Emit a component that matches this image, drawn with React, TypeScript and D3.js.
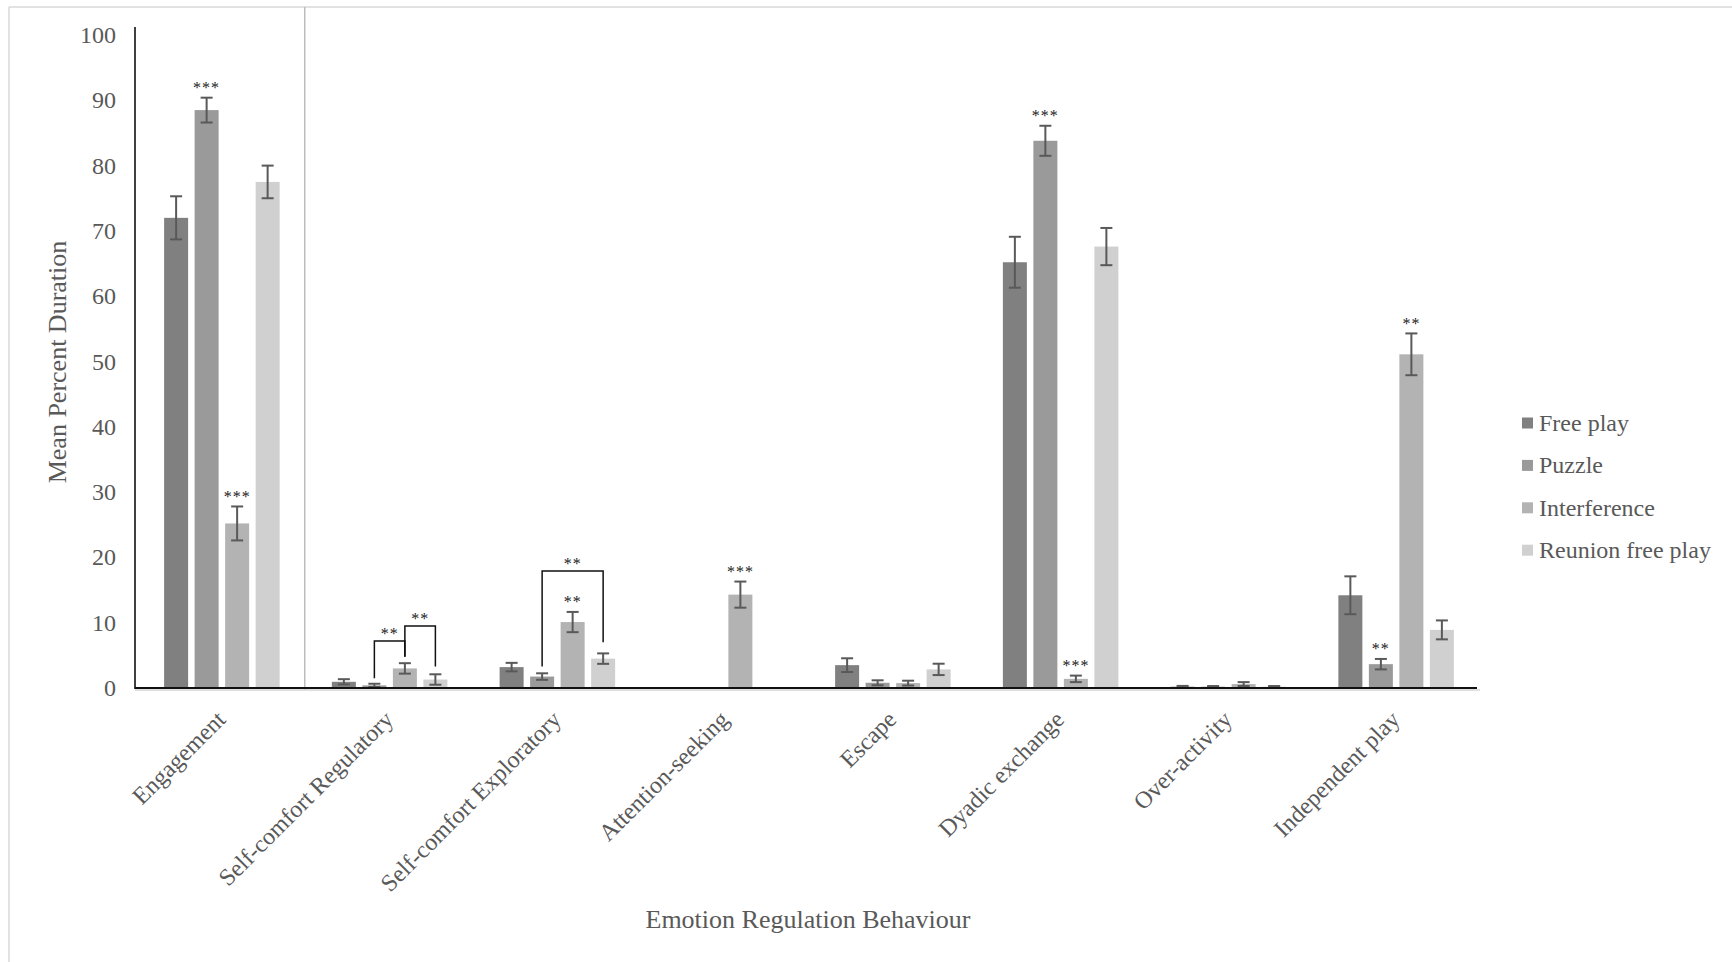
import React from "react";
import * as d3 from "d3";

const categories = [
  "Engagement",
  "Self-comfort Regulatory",
  "Self-comfort Exploratory",
  "Attention-seeking",
  "Escape",
  "Dyadic exchange",
  "Over-activity",
  "Independent play",
];
const seriesNames = ["Free play", "Puzzle", "Interference", "Reunion free play"];
const seriesColors = ["#808080", "#9a9a9a", "#b3b3b3", "#d0d0d0"];

const freePlay = [72.0, 0.95, 3.2, 0, 3.5, 65.2, 0.2, 14.2];
const puzzle = [88.5, 0.4, 1.75, 0, 0.8, 83.8, 0.2, 3.65];
const interference = [25.2, 3.0, 10.1, 14.3, 0.75, 1.4, 0.6, 51.1];
const reunion = [77.5, 1.3, 4.5, 0, 2.85, 67.6, 0.2, 8.9];

const freePlayErr = [3.3, 0.4, 0.65, 0, 1.05, 3.9, 0.12, 2.9];
const puzzleErr = [1.9, 0.25, 0.5, 0, 0.38, 2.3, 0.1, 0.8];
const interferenceErr = [2.6, 0.8, 1.55, 2.0, 0.37, 0.5, 0.3, 3.2];
const reunionErr = [2.5, 0.8, 0.8, 0, 0.87, 2.85, 0.1, 1.45];

const yTicks = [0, 10, 20, 30, 40, 50, 60, 70, 80, 90, 100];

// significance stars above bars: [category index, series index, label]
const stars: [number, number, string][] = [
  [0, 1, "***"],
  [0, 2, "***"],
  [2, 2, "**"],
  [3, 2, "***"],
  [5, 1, "***"],
  [5, 2, "***"],
  [7, 1, "**"],
  [7, 2, "**"],
];

// brackets: [category, from series, to series, top value, left bottom, right bottom, label]
const brackets: [number, number, number, number, number, number, string][] = [
  [1, 1, 2, 7.2, 1.5, 4.8, "**"],
  [1, 2, 3, 9.5, 4.8, 3.3, "**"],
  [2, 1, 3, 17.9, 3.3, 7.0, "**"],
];

const values = [freePlay, puzzle, interference, reunion];
const errors = [freePlayErr, puzzleErr, interferenceErr, reunionErr];

const W = 1732;
const H = 962;
const X0 = 135;
const X1 = 1477;
const Y0 = 688;
const YTOP = 35;
const FONT = "'Liberation Serif', 'Times New Roman', serif";
const TEXT = "#595959";

export default function App() {
  const x = d3.scaleBand<string>().domain(categories).range([X0, X1]).padding(0);
  const inner = d3
    .scaleBand<string>()
    .domain(seriesNames)
    .range([3, x.bandwidth() + 3])
    .paddingInner(0.213)
    .paddingOuter(0.856);
  const y = d3.scaleLinear().domain([0, 100]).range([Y0, YTOP]);
  const bw = inner.bandwidth();
  const cx = (c: number, s: number) => (x(categories[c]) as number) + (inner(seriesNames[s]) as number) + bw / 2;

  return (
    <svg
      width={W}
      height={H}
      style={{ position: "absolute", left: 0, top: 0, background: "#fff" }}
      fontFamily={FONT}
    >
      <rect x={0} y={0} width={W} height={H} fill="#fff" />
      {/* outer frame */}
      <line x1={9} x2={W} y1={7} y2={7} stroke="#d9d9d9" strokeWidth={1.5} />
      <line x1={9} x2={9} y1={7} y2={H} stroke="#d9d9d9" strokeWidth={1.5} />
      {/* separator line */}
      <line
        x1={(x(categories[1]) as number) + 2}
        x2={(x(categories[1]) as number) + 2}
        y1={7}
        y2={Y0 + 2}
        stroke="#bdbdbd"
        strokeWidth={1.5}
      />

      {/* bars */}
      {categories.map((cat, ci) =>
        seriesNames.map((s, si) => {
          const v = values[si][ci];
          if (v <= 0) return null;
          return (
            <rect
              key={cat + s}
              x={(x(cat) as number) + (inner(s) as number)}
              y={y(v)}
              width={bw}
              height={Y0 - y(v)}
              fill={seriesColors[si]}
            />
          );
        })
      )}

      {/* error bars */}
      {categories.map((cat, ci) =>
        seriesNames.map((s, si) => {
          const v = values[si][ci];
          const e = errors[si][ci];
          if (v <= 0 || e <= 0) return null;
          const c = cx(ci, si);
          const hi = y(v + e);
          const lo = y(Math.max(0, v - e));
          return (
            <g key={"e" + cat + s} stroke="#595959" strokeWidth={2}>
              <line x1={c} x2={c} y1={hi} y2={lo} />
              <line x1={c - 6} x2={c + 6} y1={hi} y2={hi} />
              <line x1={c - 6} x2={c + 6} y1={lo} y2={lo} />
            </g>
          );
        })
      )}

      {/* stars */}
      {stars.map(([ci, si, lab], i) => {
        const top = y(values[si][ci] + errors[si][ci]);
        return (
          <text
            key={"s" + i}
            x={cx(ci, si)}
            y={top - 4.5}
            textAnchor="middle"
            fontSize={16}
            letterSpacing={1}
            fill="#1a1a1a"
          >
            {lab}
          </text>
        );
      })}

      {/* brackets */}
      {brackets.map(([ci, a, b, top, lb, rb, lab], i) => {
        const xa = cx(ci, a);
        const xb = cx(ci, b);
        return (
          <g key={"b" + i}>
            <path
              d={`M${xa},${y(lb)}V${y(top)}H${xb}V${y(rb)}`}
              fill="none"
              stroke="#111"
              strokeWidth={1.5}
            />
            <text
              x={(xa + xb) / 2}
              y={y(top) - 2}
              textAnchor="middle"
              fontSize={16}
              letterSpacing={1}
              fill="#1a1a1a"
            >
              {lab}
            </text>
          </g>
        );
      })}

      {/* axes */}
      <line x1={X0} x2={X0} y1={YTOP - 8} y2={Y0 + 1} stroke="#404040" strokeWidth={2} />
      <line x1={X0} x2={X1 + 3} y1={Y0 + 2} y2={Y0 + 2} stroke="#d4d4d4" strokeWidth={1.5} />
      <line x1={X0} x2={X1} y1={Y0} y2={Y0} stroke="#111" strokeWidth={2} />

      {yTicks.map((t) => (
        <text
          key={"y" + t}
          x={116}
          y={y(t)}
          textAnchor="end"
          dominantBaseline="central"
          fontSize={24}
          fill={TEXT}
        >
          {t}
        </text>
      ))}

      {categories.map((cat) => {
        const c = (x(cat) as number) + x.bandwidth() / 2;
        return (
          <text
            key={"x" + cat}
            transform={`translate(${c + 8},${721}) rotate(-45)`}
            textAnchor="end"
            fontSize={24}
            fill={TEXT}
          >
            {cat}
          </text>
        );
      })}

      <text
        transform={`translate(57,362) rotate(-90)`}
        textAnchor="middle"
        dominantBaseline="central"
        fontSize={26}
        fill={TEXT}
      >
        Mean Percent Duration
      </text>
      <text x={808} y={919} textAnchor="middle" dominantBaseline="central" fontSize={26} fill={TEXT}>
        Emotion Regulation Behaviour
      </text>

      {/* legend */}
      {seriesNames.map((s, i) => {
        const ly = 423 + i * 42.4;
        return (
          <g key={"l" + s}>
            <rect x={1522} y={ly - 5.5} width={11} height={11} fill={seriesColors[i]} />
            <text x={1539} y={ly} dominantBaseline="central" fontSize={24} fill={TEXT}>
              {s}
            </text>
          </g>
        );
      })}
    </svg>
  );
}
